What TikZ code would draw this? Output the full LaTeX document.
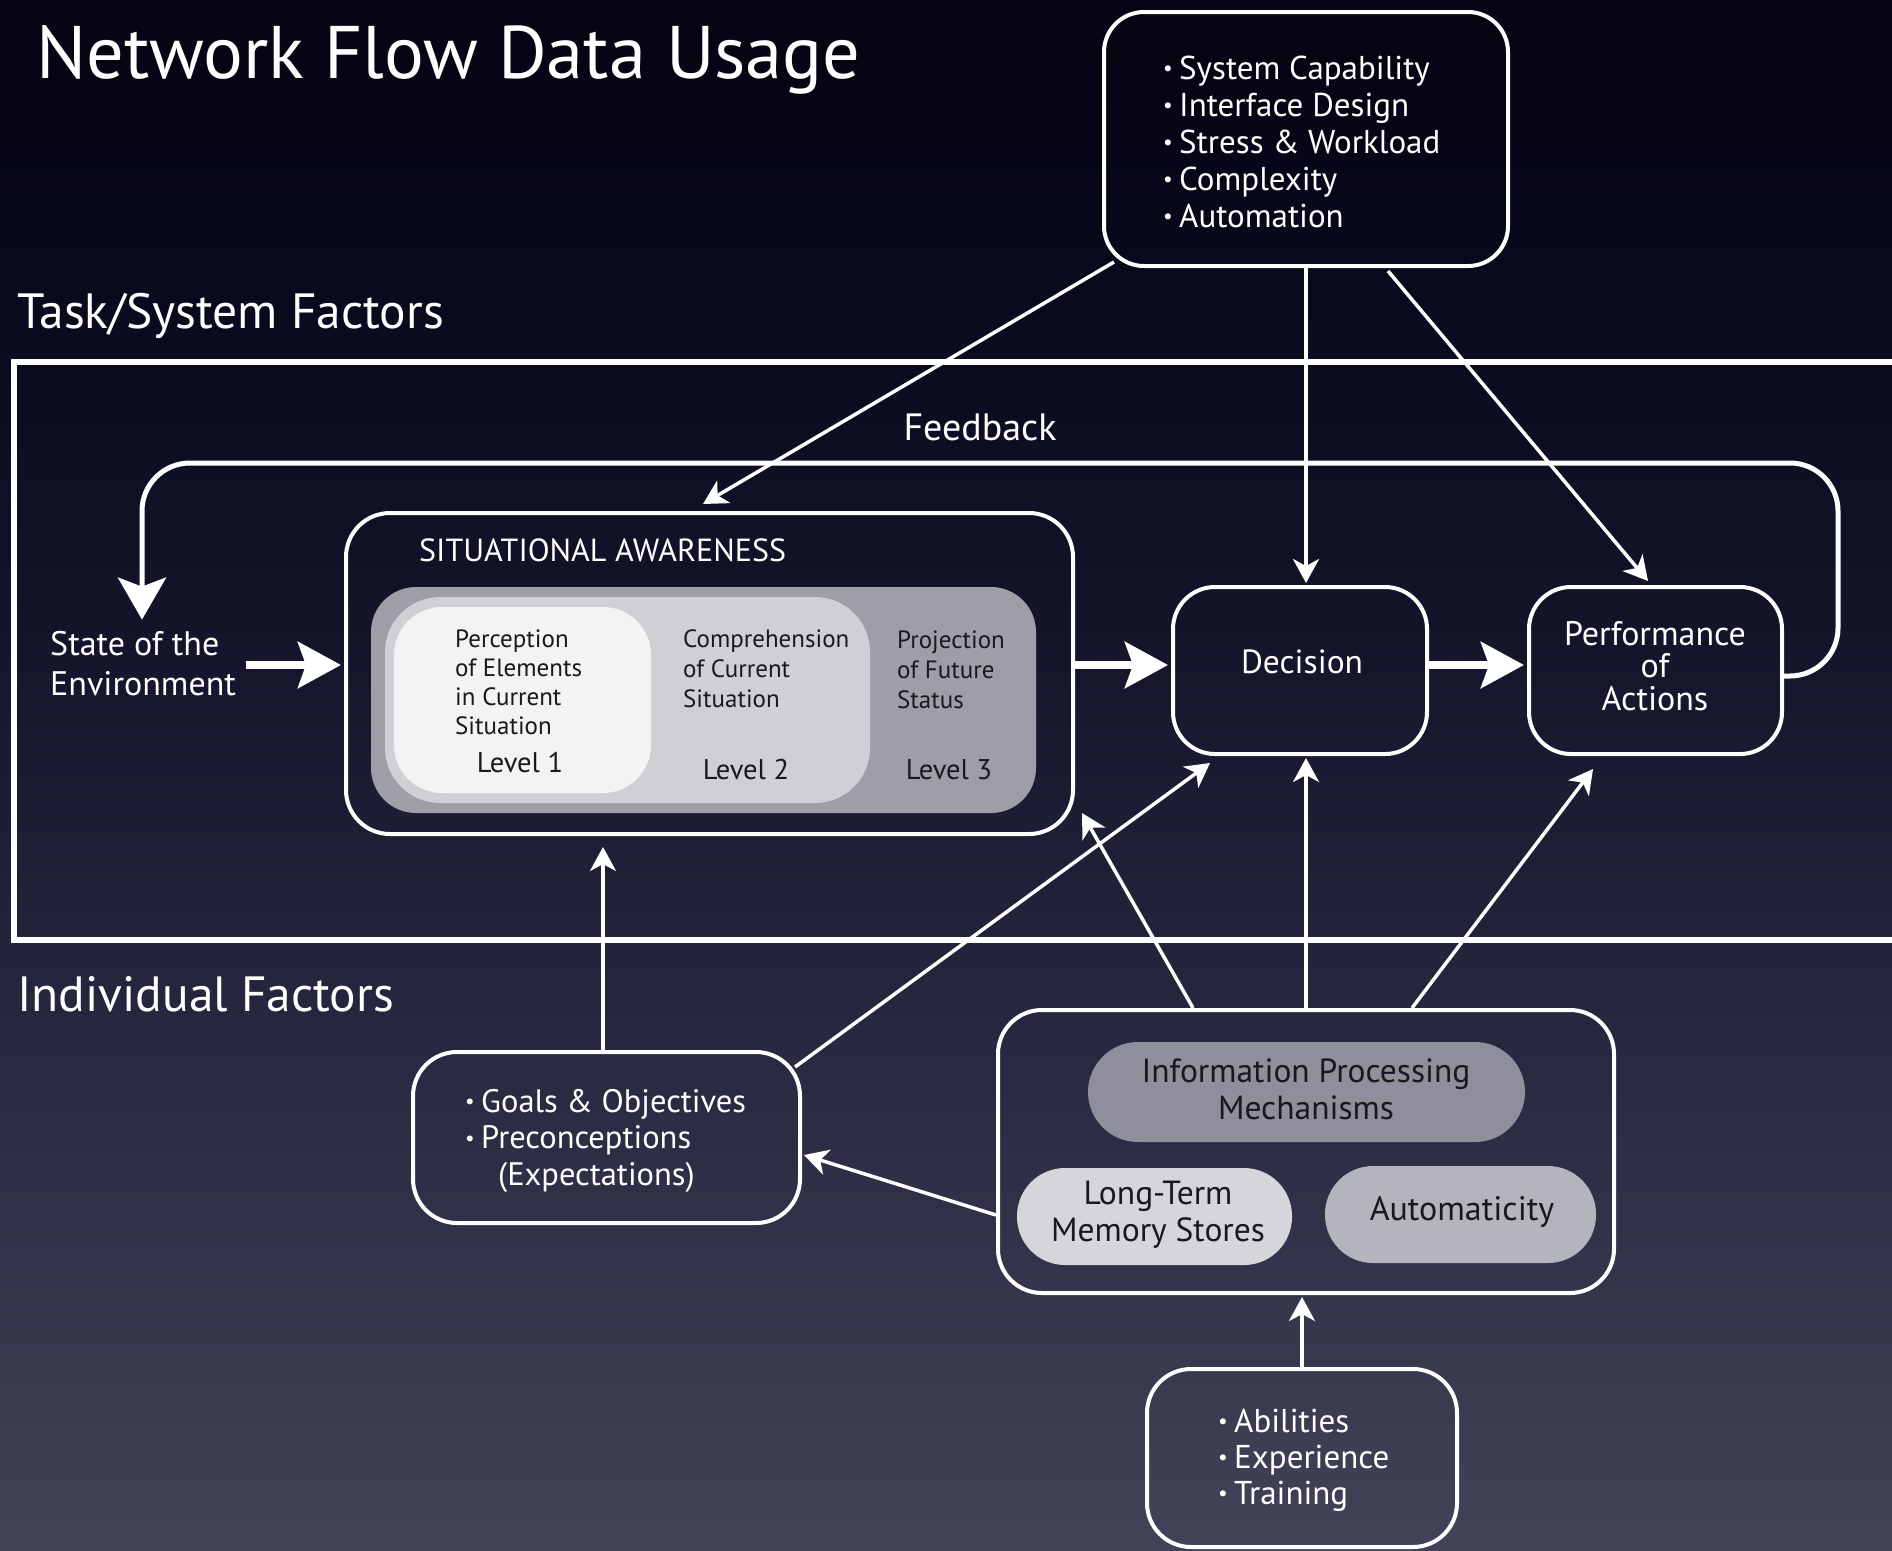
\documentclass[tikz,border=0pt]{standalone}
\usepackage{fontspec}
\usepackage{graphicx}
\setmainfont{PT Sans}
\usetikzlibrary{arrows.meta,calc}

% background gradient, page bottom to page top
\definecolor{bgA}{RGB}{96,96,116}
\definecolor{bgB}{RGB}{74,74,96}
\definecolor{bgC}{RGB}{42,42,66}
\definecolor{bgD}{RGB}{19,19,42}
\definecolor{bgE}{RGB}{6,6,24}
\definecolor{bgF}{RGB}{1,1,6}
\pgfdeclareverticalshading{bgshade}{100bp}{color(0bp)=(bgA); color(20bp)=(bgB); color(40bp)=(bgC); color(55bp)=(bgD); color(70bp)=(bgE); color(85bp)=(bgF); color(100bp)=(black)}

% fills of the nested awareness levels and the individual-factor pills
\definecolor{lvlone}{RGB}{242,243,243}
\definecolor{lvltwo}{RGB}{208,208,212}
\definecolor{lvlthree}{RGB}{158,157,168}
\definecolor{pillmid}{RGB}{142,142,156}
\definecolor{pilllight}{RGB}{214,214,218}
\definecolor{pillgrey}{RGB}{180,180,188}
\definecolor{darktext}{RGB}{25,25,28}

% stacked lines whose baseline is the first line
\newcommand\leftlines[1]{\vtop{\halign{##\hfil\cr#1\crcr}}}
\newcommand\midlines[1]{\vtop{\halign{\hfil##\hfil\cr#1\crcr}}}
\newcommand\bul{\makebox[16pt][l]{\raisebox{0.1em}{\scalebox{0.65}{•}}}}
\newcommand\fsz[2]{\fontsize{#1}{#2}\selectfont}

\begin{document}
\begin{tikzpicture}[x=1pt, y=-1pt,
  box/.style={draw=white, line width=4pt, rounded corners=42pt, inner sep=0pt},
  txt/.style={text=white, inner sep=0pt},
  dark/.style={text=darktext, inner sep=0pt},
  level/.style={inner sep=0pt},
  tarrow/.style={draw=white, line width=3.5pt, -{Stealth[length=24pt,width=26pt,inset=7pt]}},
  farrow/.style={draw=white, line width=8pt, -{Stealth[length=43pt,width=46pt,inset=8pt]}},
  fbline/.style={draw=white, line width=5pt, rounded corners=48pt, -{Stealth[length=42pt,width=48pt,inset=9pt]}}
]
\useasboundingbox (0,0) rectangle (1892,1550);
\shade[shading=bgshade] (0,0) rectangle (1892,1550);

% headings
\node[txt, anchor=base west, font=\fsz{74.5}{80}] (title) at (36,78) {Network Flow Data Usage};
\node[txt, anchor=base west, font=\fsz{49.5}{56}] (tasklbl) at (17,328) {Task/System Factors};
\node[txt, anchor=base west, font=\fsz{49.5}{56}] (indlbl) at (17,1011) {Individual Factors};

% task/system region
\draw[white, line width=6.5pt] (14,362) rectangle (1940,940);

% task/system factor list
\node[box, rounded corners=40pt, minimum width=404pt, minimum height=254pt] (tf) at (1306,139) {};
\node[txt, anchor=base west, font=\fsz{33}{37}] (tflist) at (1163,79)
  {\leftlines{\bul System Capability\cr \bul Interface Design\cr \bul Stress \& Workload\cr \bul Complexity\cr \bul Automation}};

% environment
\node[txt, anchor=base west, font=\fsz{34}{40}] (env) at (50,655) {\leftlines{State of the\cr Environment}};

% situational awareness
\node[box, rounded corners=44pt, minimum width=727pt, minimum height=321pt] (sa) at (709.5,673.5) {};
\node[level, fill=lvlthree, rounded corners=45pt, minimum width=665pt, minimum height=226pt] (lv3) at (703.5,700) {};
\node[level, fill=lvltwo, rounded corners=55pt, minimum width=485pt, minimum height=206pt] (lv2) at (627.5,700) {};
\node[level, fill=lvlone, rounded corners=48pt, minimum width=257pt, minimum height=186pt] (lv1) at (522.5,700) {};
\node[txt, anchor=base west, font=\fsz{32}{36}] (satitle) at (419,561) {SITUATIONAL AWARENESS};
\node[dark, anchor=base west, font=\fsz{25}{29}] (l1txt) at (455,647) {\leftlines{Perception\cr of Elements\cr in Current\cr Situation}};
\node[dark, anchor=base, font=\fsz{28.5}{32}] (l1lbl) at (520,772) {Level 1};
\node[dark, anchor=base west, font=\fsz{25}{30}] (l2txt) at (683,647) {\leftlines{Comprehension\cr of Current\cr Situation}};
\node[dark, anchor=base, font=\fsz{28.5}{32}] (l2lbl) at (746,779) {Level 2};
\node[dark, anchor=base west, font=\fsz{25}{30}] (l3txt) at (897,648) {\leftlines{Projection\cr of Future\cr Status}};
\node[dark, anchor=base, font=\fsz{28.5}{32}] (l3lbl) at (949,779) {Level 3};

% decision and action
\node[box, minimum width=254pt, minimum height=167pt] (dec) at (1300,670.5) {};
\node[txt, anchor=base, font=\fsz{33.5}{36}] (dectxt) at (1302,673) {Decision};
\node[box, minimum width=253pt, minimum height=167pt] (perf) at (1655.5,670.5) {};
\node[txt, anchor=base, font=\fsz{34}{32.5}] (perftxt) at (1655,645) {\midlines{Performance\cr of\cr Actions}};

% individual factors
\node[box, rounded corners=44pt, minimum width=387pt, minimum height=171pt] (goals) at (606.5,1137.5) {};
\node[txt, anchor=base west, font=\fsz{32.5}{36.5}] (goalstxt) at (465,1112)
  {\leftlines{\bul Goals \& Objectives\cr \bul Preconceptions\cr \hskip33pt(Expectations)}};

\node[box, rounded corners=44pt, minimum width=616pt, minimum height=283pt] (ip) at (1306,1151.5) {};
\node[level, fill=pillmid, rounded corners=50pt, minimum width=437pt, minimum height=100pt] (ipm) at (1306.5,1092) {};
\node[dark, anchor=base, font=\fsz{33.5}{37}] (ipmtxt) at (1306,1082) {\midlines{Information Processing\cr Mechanisms}};
\node[level, fill=pilllight, rounded corners=48pt, minimum width=275pt, minimum height=97pt] (ltm) at (1154.5,1216.5) {};
\node[dark, anchor=base, font=\fsz{33.5}{37}] (ltmtxt) at (1158,1204) {\midlines{Long-Term\cr Memory Stores}};
\node[level, fill=pillgrey, rounded corners=48pt, minimum width=271pt, minimum height=97pt] (auto) at (1460.5,1214.5) {};
\node[dark, anchor=base, font=\fsz{34}{37}] (autotxt) at (1462,1220) {Automaticity};

\node[box, rounded corners=44pt, minimum width=310pt, minimum height=178pt] (abil) at (1302,1458) {};
\node[txt, anchor=base west, font=\fsz{33}{36}] (abiltxt) at (1218,1432)
  {\leftlines{\bul Abilities\cr \bul Experience\cr \bul Training}};

% main flow
\coordinate (flowrow) at (0,665);
\draw[farrow, shorten <=10pt, shorten >=3pt] (env.east |- flowrow) -- (sa.west |- flowrow);
\draw[farrow, shorten >=3pt] (sa.east |- flowrow) -- (dec.west |- flowrow);
\draw[farrow, shorten >=3pt] (dec.east |- flowrow) -- (perf.west |- flowrow);

% feedback loop
\coordinate (fbright) at (1838,463);
\coordinate (fbleft) at (142,463);
\draw[fbline, shorten >=11pt] ($(perf.east)+(0,5.5)$) -| (fbright) -- (fbleft) -- (fbleft |- env.north);
\node[txt, anchor=base, font=\fsz{38}{42}] (fblbl) at (980,440) {Feedback};

% task/system influences
\draw[tarrow] ($(tf.south west)+(12,-6)$) -- ($(sa.north west)+(359,-7)$);
\draw[tarrow] (tf.south) -- ($(tf.south |- dec.north)+(0,-2)$);
\draw[tarrow] ($(tf.south)+(82,3)$) -- ($(perf.north)+(-7.5,-4)$);

% individual influences
\coordinate (goalcol) at (603,0);
\draw[tarrow] (goals.north -| goalcol) -- ($(sa.south -| goalcol)+(0,11)$);
\draw[tarrow] ($(goals.north east)+(-7,17)$) -- ($(dec.south west)+(39,7)$);
\draw[tarrow] ($(ip.north west)+(197,0)$) -- ($(sa.south east)+(7,-23)$);
\draw[tarrow] (ip.north) -- ($(ip.north |- dec.south)+(0,2)$);
\draw[tarrow] ($(ip.north)+(106,0)$) -- ($(perf.south)+(-62.5,13)$);
\draw[tarrow] ($(ip.west)+(0,63.5)$) -- ($(goals.east)+(2,17.5)$);
\draw[tarrow] (abil.north) -- ($(abil.north |- ip.south)+(0,2)$);
\end{tikzpicture}
\end{document}
